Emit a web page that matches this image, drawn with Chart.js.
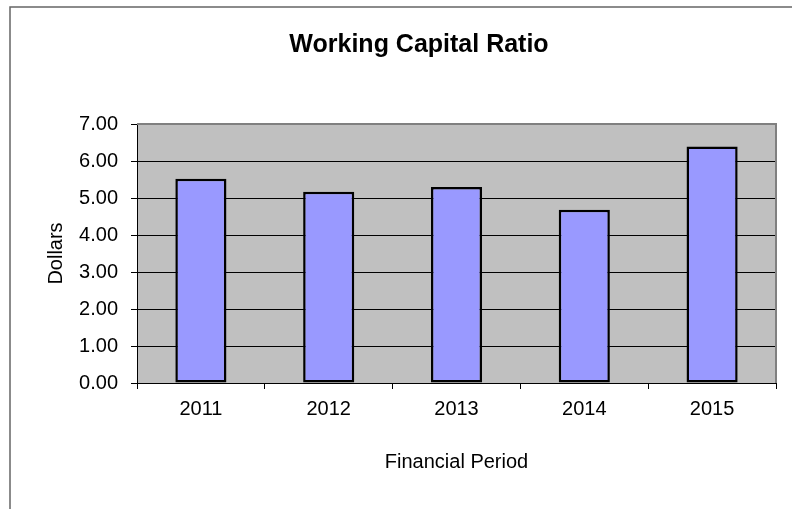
<!DOCTYPE html>
<html>
<head>
<meta charset="utf-8">
<script src="https://cdn.jsdelivr.net/npm/chart.js@4/dist/chart.umd.min.js"></script>
<style>
  html, body { margin: 0; padding: 0; background: #fff; }
  #wrap { position: relative; width: 792px; height: 509px; }
</style>
</head>
<body>
<div id="wrap"><canvas id="chart" width="792" height="509"></canvas></div>
<script>
const periods = ['2011', '2012', '2013', '2014', '2015'];
const ratios = [5.52, 5.17, 5.30, 4.68, 6.39];
const yTicks = [0, 1, 2, 3, 4, 5, 6, 7];

const FONT = "'Liberation Sans', Arial, sans-serif";

// gray plot background + outer frame, then gray top/right plot border over the grid
const excelFrame = {
  id: 'excelFrame',
  beforeDraw(chart) {
    const { ctx, chartArea: a } = chart;
    ctx.save();
    ctx.fillStyle = '#c0c0c0';
    ctx.fillRect(a.left, a.top, a.right - a.left, a.bottom - a.top);
    ctx.strokeStyle = '#666';
    ctx.lineWidth = 1.5;
    ctx.beginPath();
    ctx.moveTo(10, 509);
    ctx.lineTo(10, 7);
    ctx.lineTo(792, 7);
    ctx.stroke();
    ctx.restore();
  },
  beforeDatasetsDraw(chart) {
    const { ctx, chartArea: a } = chart;
    ctx.save();
    ctx.strokeStyle = '#808080';
    ctx.lineWidth = 2;
    ctx.beginPath();
    ctx.moveTo(a.left, a.top);
    ctx.lineTo(a.right, a.top);
    ctx.lineTo(a.right, a.bottom);
    ctx.stroke();
    ctx.restore();
  }
};

new Chart(document.getElementById('chart'), {
  type: 'bar',
  data: {
    labels: periods,
    datasets: [{
      data: ratios,
      backgroundColor: '#9999ff',
      borderColor: '#000',
      borderWidth: 2.5,
      borderSkipped: false,
      categoryPercentage: 1,
      barPercentage: 0.4
    }]
  },
  options: {
    responsive: false,
    animation: false,
    devicePixelRatio: 1,
    layout: { padding: { left: 62, right: 16, top: 0, bottom: 0 } },
    plugins: {
      legend: { display: false },
      tooltip: { enabled: false },
      title: {
        display: true,
        text: 'Working Capital Ratio',
        color: '#000',
        font: { family: FONT, size: 25, weight: 'bold', lineHeight: 1.2 },
        padding: { top: 30, bottom: 64 }
      }
    },
    scales: {
      x: {
        grid: { display: true, drawOnChartArea: false, drawTicks: true, tickLength: 6, color: '#000', offset: true },
        border: { display: true, color: '#000', width: 1 },
        ticks: { color: '#000', padding: 8, font: { family: FONT, size: 20 } },
        title: {
          display: true,
          text: 'Financial Period',
          color: '#000',
          font: { family: FONT, size: 20, lineHeight: 1.2 },
          padding: { top: 0, bottom: 35 }
        },
        afterFit(scale) { scale.height = 126; }
      },
      y: {
        min: 0,
        max: 7,
        afterBuildTicks(scale) { scale.ticks = yTicks.map(v => ({ value: v })); },
        grid: { color: '#000', lineWidth: 1, tickLength: 6, drawTicks: true },
        border: { display: true, color: '#000', width: 1 },
        ticks: {
          color: '#000',
          padding: 13,
          font: { family: FONT, size: 20 },
          callback: v => Number(v).toFixed(2)
        },
        title: {
          display: true,
          text: 'Dollars',
          color: '#000',
          font: { family: FONT, size: 20, lineHeight: 1 },
          padding: { top: -16, bottom: 0 }
        },
        afterFit(scale) { scale.width = 75; }
      }
    }
  },
  plugins: [excelFrame]
});
</script>
</body>
</html>
